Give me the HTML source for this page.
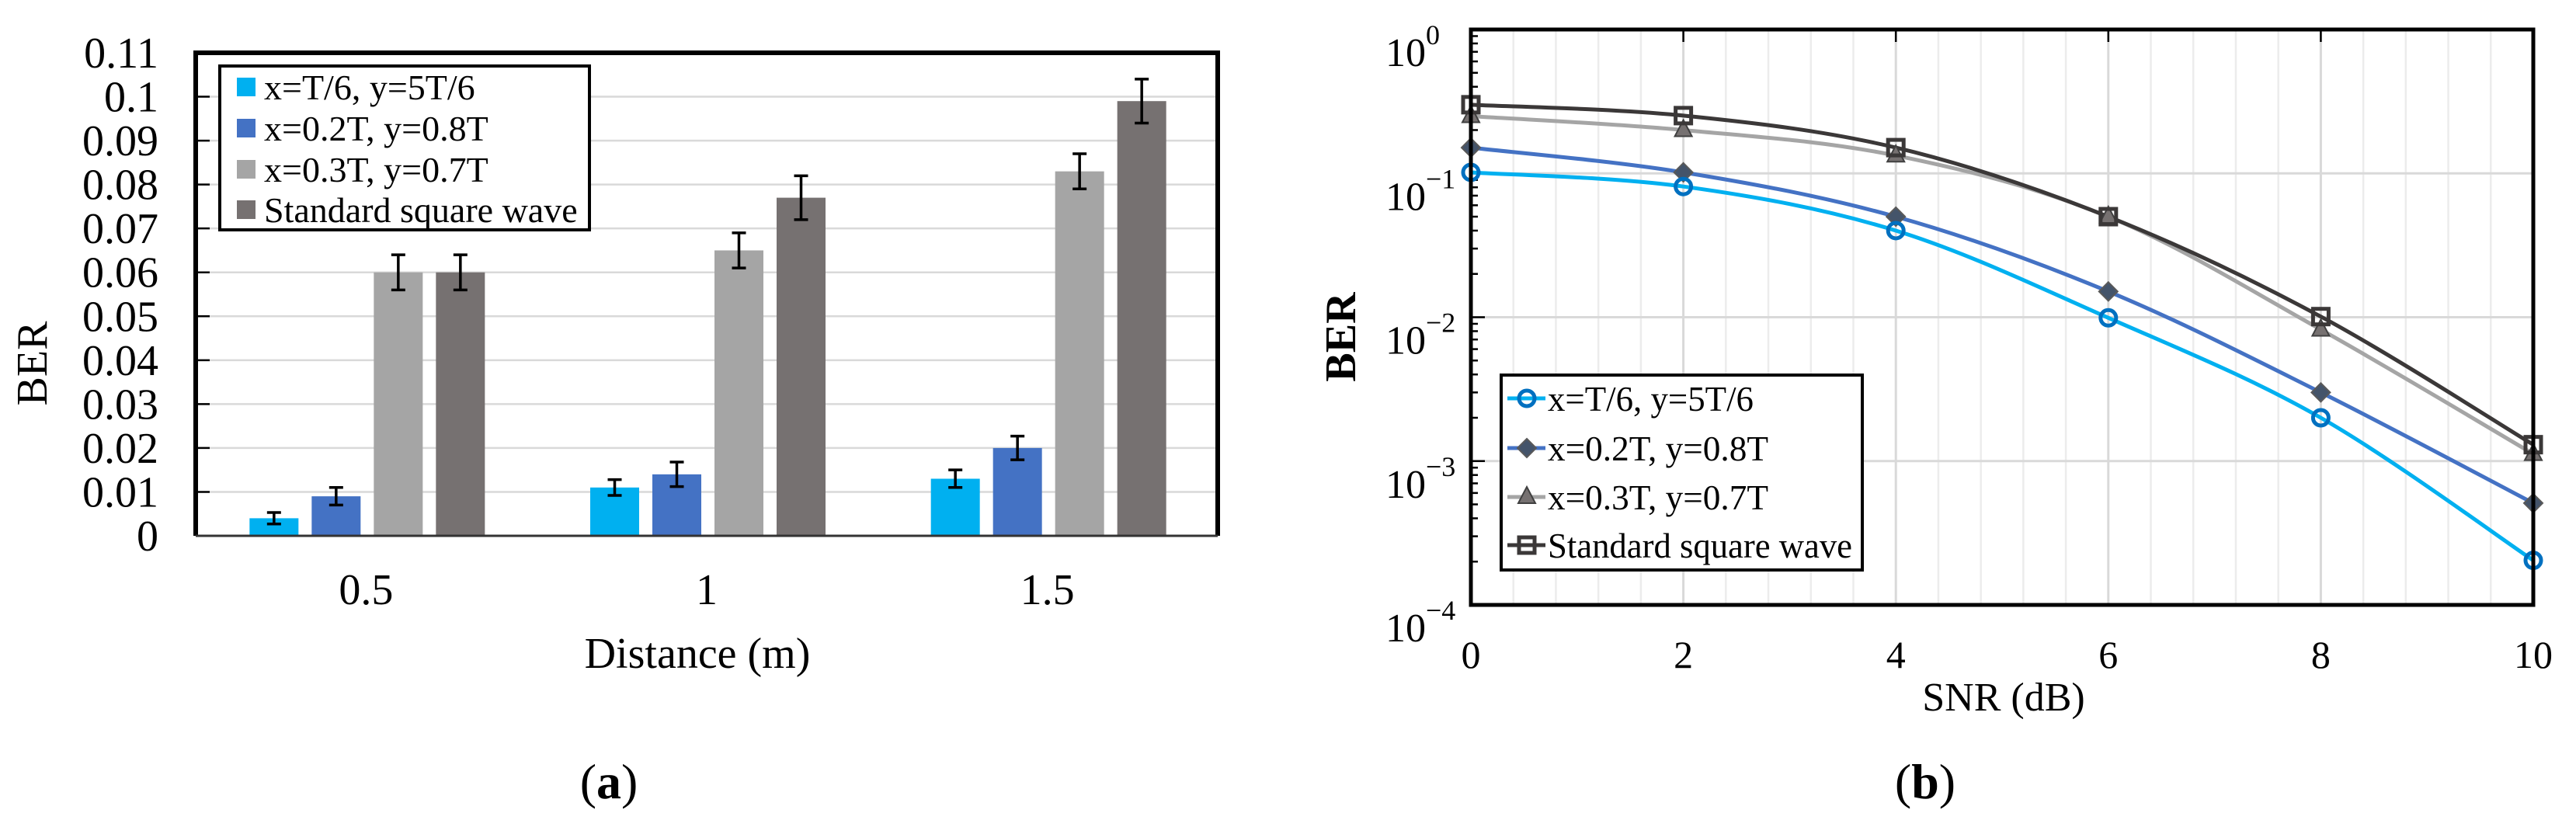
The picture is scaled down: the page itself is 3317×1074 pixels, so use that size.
<!DOCTYPE html>
<html><head><meta charset="utf-8"><style>
html,body{margin:0;padding:0;background:#fff;}
svg{display:block;font-family:"Liberation Serif",serif;}
</style></head><body>
<svg id="fig" width="3317" height="1074" viewBox="0 0 3317 1074" xmlns="http://www.w3.org/2000/svg">
<g id="pa"></g>
<g id="pb"></g>
</svg>
<script>
// ---------- Panel (a) data ----------
const aCategories = ["0.5", "1", "1.5"];
const aSeriesNames = ["x=T/6, y=5T/6", "x=0.2T, y=0.8T", "x=0.3T, y=0.7T", "Standard square wave"];
const aS1 = [0.004, 0.011, 0.013];
const aS2 = [0.009, 0.014, 0.020];
const aS3 = [0.060, 0.065, 0.083];
const aS4 = [0.060, 0.077, 0.099];
const aE1 = [0.0013, 0.0018, 0.002];
const aE2 = [0.002, 0.0028, 0.0027];
const aE3 = [0.004, 0.004, 0.004];
const aE4 = [0.004, 0.005, 0.005];
const aYTicks = ["0","0.01","0.02","0.03","0.04","0.05","0.06","0.07","0.08","0.09","0.1","0.11"];

// ---------- Panel (b) data ----------
const bX = [0, 2, 4, 6, 8, 10];
const bS1 = [0.1016, 0.081, 0.040, 0.0099, 0.0020, 0.000204];
const bS2 = [0.151, 0.1016, 0.050, 0.0151, 0.0030, 0.00051];
const bS3 = [0.25, 0.20, 0.133, 0.050, 0.0082, 0.00112];
const bS4 = [0.30, 0.252, 0.151, 0.050, 0.0101, 0.00130];
const bXTicks = ["0","2","4","6","8","10"];
const bYExp = ["0","\u22121","\u22122","\u22123","\u22124"];
const bNames = ["x=T/6, y=5T/6", "x=0.2T, y=0.8T", "x=0.3T, y=0.7T", "Standard square wave"];

const NS = "http://www.w3.org/2000/svg";
function mk(parent, tag, attrs, txt){
  const e = document.createElementNS(NS, tag);
  for (const k in attrs) e.setAttribute(k, attrs[k]);
  if (txt !== undefined) e.textContent = txt;
  parent.appendChild(e);
  return e;
}

// ================= Panel A =================
(function(){
  const g = document.getElementById('pa');
  const L = 252, R = 1568, T = 68, B = 690;
  const yMax = 0.11;
  const ys = v => B - v / yMax * (B - T);
  const cw = (R - L) / aCategories.length;
  const xc = i => L + cw * (i + 0.5);
  const colors = ["#00b0f0", "#4472c4", "#a5a5a5", "#767171"];
  const series = [aS1, aS2, aS3, aS4];
  const errs = [aE1, aE2, aE3, aE4];
  const bw = 63, step = 80;

  aYTicks.forEach((t, i) => {
    const v = i * 0.01;
    const y = ys(v);
    if (i > 0) {
      const gl = mk(g, 'line', {x1: L, x2: R, y1: y, y2: y, stroke: '#d9d9d9', 'stroke-width': 2.5});
      
      
    }
    const tk = mk(g, 'line', {x1: L, x2: L + 18, y1: y, y2: y, stroke: '#000', 'stroke-width': 2.5});
    
    
    const tx = mk(g, 'text', {x: 204, y: y + 19, 'font-size': 56, 'text-anchor': 'end'}, t);
    
    
  });

  series.forEach((s, si) => {
    s.forEach((v, ci) => {
      const x = xc(ci) - 150 + si * step;
      const r = mk(g, 'rect', {x: x, y: ys(v), width: bw, height: B - ys(v), fill: colors[si]});
      
      
      const cx = x + bw / 2, e = errs[si][ci];
      const eg = mk(g, 'path', {d: `M${cx},${ys(v+e)}V${ys(v-e)}M${cx-9},${ys(v+e)}H${cx+9}M${cx-9},${ys(v-e)}H${cx+9}`, stroke: '#000', 'stroke-width': 3.5, fill: 'none'});
      
      
    });
  });

  aCategories.forEach((c, i) => {
    const t = mk(g, 'text', {x: xc(i), y: 778, 'font-size': 56, 'text-anchor': 'middle'}, c);
    
    
  });

  const fr = mk(g, 'path', {d: `M${L},${B}V${T}H${R}V${B}`, fill: 'none', stroke: '#000', 'stroke-width': 6});
  
  
  const bl = mk(g, 'line', {x1: L, x2: R, y1: B, y2: B, stroke: '#333', 'stroke-width': 3});
  
  

  const xt = mk(g, 'text', {x: 898, y: 860, 'font-size': 56, 'text-anchor': 'middle'}, 'Distance (m)');
  
  
  const yt = mk(g, 'text', {x: 0, y: 0, 'font-size': 56, 'text-anchor': 'middle', transform: 'translate(60,468) rotate(-90)'}, 'BER');
  
  
  const cap = mk(g, 'text', {x: 784, y: 1028, 'font-size': 64, 'text-anchor': 'middle'});
  
  
  mk(cap, 'tspan', {}, '(');
  mk(cap, 'tspan', {'font-weight': 'bold'}, 'a');
  mk(cap, 'tspan', {}, ')');

  const lg = mk(g, 'g', {});
  
  
  mk(lg, 'rect', {x: 283, y: 85, width: 476, height: 211, fill: '#fff', stroke: '#000', 'stroke-width': 4});
  const rowsY = [112, 165, 218, 270];
  aSeriesNames.forEach((n, i) => {
    const e = mk(lg, 'g', {});
    
    
    mk(e, 'rect', {x: 305, y: rowsY[i] - 12, width: 24, height: 24, fill: colors[i]});
    mk(e, 'text', {x: 340, y: rowsY[i] + 16, 'font-size': 46}, n);
  });
})();

// ================= Panel B =================
(function(){
  const g = document.getElementById('pb');
  const L = 1894, R = 3262, T = 38, B = 779;
  const xs = v => L + v / 10 * (R - L);
  const ys = v => T + (-Math.log10(v)) / 4 * (B - T);

  // minor vertical grid
  for (let k = 0; k <= 25; k++) {
    const v = k * 0.4;
    const major = Math.abs(v / 2 - Math.round(v / 2)) < 1e-6;
    const l = mk(g, 'line', {x1: xs(v), x2: xs(v), y1: T, y2: B, stroke: major ? '#d9d9d9' : '#ececec', 'stroke-width': major ? 3 : 2.5});
    
    
  }
  for (let d = 1; d <= 3; d++) {
    const y = ys(Math.pow(10, -d));
    const l = mk(g, 'line', {x1: L, x2: R, y1: y, y2: y, stroke: '#d9d9d9', 'stroke-width': 3});
    
    
  }
  // minor y ticks
  for (let d = 0; d < 4; d++) {
    for (let m = 2; m <= 9; m++) {
      const y = ys(m * Math.pow(10, -(d + 1)));
      const l = mk(g, 'line', {x1: L, x2: L + 9, y1: y, y2: y, stroke: '#000', 'stroke-width': 2.5});
      
      
    }
  }
  // y labels
  bYExp.forEach((ex, i) => {
    const y = ys(Math.pow(10, -i));
    const tk = mk(g, 'line', {x1: L, x2: L + 18, y1: y, y2: y, stroke: '#000', 'stroke-width': 2.5});
    
    
    const t = mk(g, 'text', {x: 1784, y: y + 47, 'font-size': 52});
    
    
    mk(t, 'tspan', {}, '10');
    mk(t, 'tspan', {dy: -28, 'font-size': 36}, ex);
  });
  // x ticks
  bXTicks.forEach((c, i) => {
    const x = xs(bX[i]);
    const tk = mk(g, 'line', {x1: x, x2: x, y1: T, y2: T + 16, stroke: '#000', 'stroke-width': 2.5});
    
    
    const t = mk(g, 'text', {x: x, y: 860, 'font-size': 50, 'text-anchor': 'middle'}, c);
    
    
  });

  function smooth(pts) {
    let d = `M${pts[0][0]},${pts[0][1]}`;
    for (let i = 0; i < pts.length - 1; i++) {
      const p0 = pts[Math.max(0, i - 1)], p1 = pts[i], p2 = pts[i + 1], p3 = pts[Math.min(pts.length - 1, i + 2)];
      const c1 = [p1[0] + (p2[0] - p0[0]) / 6, p1[1] + (p2[1] - p0[1]) / 6];
      const c2 = [p2[0] - (p3[0] - p1[0]) / 6, p2[1] - (p3[1] - p1[1]) / 6];
      d += ` C${c1[0]},${c1[1]} ${c2[0]},${c2[1]} ${p2[0]},${p2[1]}`;
    }
    return d;
  }
  const lineColors = ["#00b0f0", "#4472c4", "#a5a5a5", "#3b3838"];
  function marker(parent, type, x, y) {
    if (type === 0) return mk(parent, 'circle', {cx: x, cy: y, r: 10, fill: 'none', stroke: '#0070c0', 'stroke-width': 5});
    if (type === 1) return mk(parent, 'path', {d: `M${x},${y-12}L${x+12},${y}L${x},${y+12}L${x-12},${y}Z`, fill: '#44546a', stroke: '#595959', 'stroke-width': 2});
    if (type === 2) return mk(parent, 'path', {d: `M${x},${y-13}L${x+11},${y+8}L${x-11},${y+8}Z`, fill: '#767171', stroke: '#404040', 'stroke-width': 2});
    return mk(parent, 'rect', {x: x - 10, y: y - 10, width: 20, height: 20, fill: 'none', stroke: '#3b3838', 'stroke-width': 5});
  }
  const bSeries = [bS1, bS2, bS3, bS4];
  [2, 3, 1, 0].forEach(si => {
    const pts = bX.map((x, i) => [xs(x), ys(bSeries[si][i])]);
    const p = mk(g, 'path', {d: smooth(pts), fill: 'none', stroke: lineColors[si], 'stroke-width': 5});
    
    
  });
  [2, 3, 1, 0].forEach(si => {
    bX.forEach((x, i) => {
      const m = marker(g, si, xs(x), ys(bSeries[si][i]));
      
      
    });
  });

  const fr = mk(g, 'rect', {x: L, y: T, width: R - L, height: B - T, fill: 'none', stroke: '#000', 'stroke-width': 5});
  
  

  const lg = mk(g, 'g', {});
  
  
  mk(lg, 'rect', {x: 1933, y: 483, width: 465, height: 251, fill: '#fff', stroke: '#000', 'stroke-width': 4});
  const rows = [513, 577, 640, 702];
  const tl = [265, 284, 284, 392];
  bNames.forEach((n, i) => {
    const e = mk(lg, 'g', {});
    
    
    mk(e, 'line', {x1: 1941, x2: 1990, y1: rows[i], y2: rows[i], stroke: lineColors[i], 'stroke-width': 5});
    marker(e, i, 1966, rows[i]);
    mk(e, 'text', {x: 1993, y: rows[i] + 16, 'font-size': 45, textLength: tl[i], lengthAdjust: 'spacingAndGlyphs'}, n);
  });

  const xt = mk(g, 'text', {x: 2580, y: 915, 'font-size': 52, 'text-anchor': 'middle'}, 'SNR (dB)');
  
  
  const yt = mk(g, 'text', {x: 0, y: 0, 'font-size': 56, 'font-weight': 'bold', 'text-anchor': 'middle', transform: 'translate(1745,434) rotate(-90)'}, 'BER');
  
  
  const cap = mk(g, 'text', {x: 2479, y: 1028, 'font-size': 64, 'text-anchor': 'middle'});
  
  
  mk(cap, 'tspan', {}, '(');
  mk(cap, 'tspan', {'font-weight': 'bold'}, 'b');
  mk(cap, 'tspan', {}, ')');
})();
</script>
</body></html>
